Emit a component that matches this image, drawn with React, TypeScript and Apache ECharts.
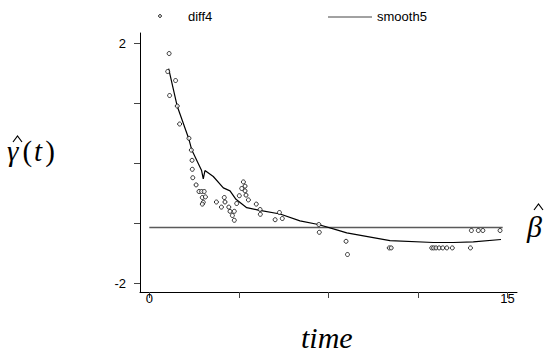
import React, { useEffect, useRef } from "react";
import * as echarts from "echarts";

const diff4X = [0.83, 0.77, 1.1, 0.85, 1.17, 1.27, 1.66, 1.76, 1.79, 1.8, 1.82, 1.96, 2.08, 2.19, 2.3, 2.22, 2.35, 2.26, 2.22, 2.81, 3.02, 3.14, 3.17, 3.33, 3.38, 3.56, 3.48, 3.56, 3.66, 3.77, 3.87, 3.94, 4.01, 4.01, 4.05, 4.15, 4.48, 4.64, 4.65, 5.27, 5.45, 5.57, 7.1, 7.12, 8.24, 8.3, 10.05, 10.13, 11.83, 11.91, 12.01, 12.14, 12.29, 12.46, 12.69, 13.45, 13.49, 13.78, 13.97, 14.69];
const diff4Y = [1.83, 1.53, 1.38, 1.13, 0.955, 0.655, 0.417, 0.22, 0.05, -0.1, -0.24, -0.36, -0.47, -0.47, -0.47, -0.57, -0.56, -0.65, -0.68, -0.645, -0.73, -0.57, -0.645, -0.73, -0.8, -0.8, -0.87, -0.95, -0.67, -0.54, -0.42, -0.31, -0.38, -0.46, -0.53, -0.61, -0.68, -0.77, -0.85, -0.94, -0.82, -0.92, -1.02, -1.15, -1.3, -1.52, -1.41, -1.41, -1.41, -1.41, -1.41, -1.41, -1.41, -1.41, -1.41, -1.41, -1.12, -1.12, -1.12, -1.12];

const smooth5X = [0.81, 1.17, 1.66, 1.78, 2.19, 2.26, 2.33, 2.68, 3.1, 3.38, 3.63, 4.08, 4.57, 5.48, 6.31, 7.08, 7.85, 8.27, 10.08, 11.9, 12.74, 13.57, 14.73];
const smooth5Y = [1.58, 0.95, 0.4, 0.22, -0.12, -0.26, -0.12, -0.22, -0.41, -0.46, -0.6, -0.74, -0.78, -0.845, -0.96, -1.02, -1.11, -1.16, -1.29, -1.32, -1.32, -1.31, -1.27];

const betaX = [0, 14.8];
const betaY = [-1.07, -1.07];

const xTicks = [0, 3.75, 7.5, 11.25, 15];
const xTickLabels = [0, 15];
const yTicks = [-2, -1, 0, 1, 2];
const yTickLabels = [-2, 2];

const SANS = "Liberation Sans";
const SERIF = "Liberation Serif";

export default function App() {
  const ref = useRef<HTMLDivElement>(null);
  useEffect(() => {
    if (!ref.current) return;
    const chart = echarts.init(ref.current, null, { renderer: "svg" });
    const labelFont = { fontFamily: SANS, fontSize: 13, color: "#000" };
    chart.setOption({
      animation: false,
      backgroundColor: "#fff",
      grid: { left: 140, top: 33, width: 377, height: 259 },
      xAxis: {
        type: "value",
        min: -0.39,
        max: 15.4,
        splitLine: { show: false },
        axisLine: { show: true, onZero: false, lineStyle: { color: "#000", width: 1 } },
        axisTick: { show: true, length: 6, customValues: xTicks, lineStyle: { color: "#444" } },
        axisLabel: { ...labelFont, margin: 0, customValues: xTickLabels },
      },
      yAxis: {
        type: "value",
        min: -2.145,
        max: 2.172,
        splitLine: { show: false },
        axisLine: { show: true, onZero: false, lineStyle: { color: "#000", width: 1 } },
        axisTick: { show: true, length: 6, customValues: yTicks, lineStyle: { color: "#444" } },
        axisLabel: { ...labelFont, margin: 14, customValues: yTickLabels },
      },
      series: [
        {
          type: "line",
          data: betaX.map((x, i) => [x, betaY[i]]),
          symbol: "none",
          lineStyle: { color: "#5a5a5a", width: 1.5 },
          silent: true,
          z: 1,
        },
        {
          type: "line",
          name: "smooth5",
          data: smooth5X.map((x, i) => [x, smooth5Y[i]]),
          symbol: "none",
          lineStyle: { color: "#000", width: 1.2 },
          z: 2,
        },
        {
          type: "scatter",
          name: "diff4",
          data: diff4X.map((x, i) => [x, diff4Y[i]]),
          symbol: "circle",
          symbolSize: 4,
          itemStyle: { color: "#fff", borderColor: "#000", borderWidth: 1 },
          z: 3,
        },
      ],
      graphic: [
        { type: "circle", shape: { cx: 160, cy: 16, r: 1.4 }, style: { fill: "#fff", stroke: "#000", lineWidth: 1 } },
        { type: "text", x: 188, y: 16, style: { text: "diff4", fontFamily: SANS, fontSize: 13, fill: "#000", verticalAlign: "middle" } },
        { type: "line", shape: { x1: 328, y1: 17, x2: 372, y2: 17 }, style: { stroke: "#444", lineWidth: 1 } },
        { type: "text", x: 377, y: 16, style: { text: "smooth5", fontFamily: SANS, fontSize: 13, fill: "#000", verticalAlign: "middle" } },
        { type: "text", x: 301, y: 352, style: { text: "time", fontFamily: SERIF, fontStyle: "italic", fontSize: 30, fill: "#000", verticalAlign: "bottom" } },
        {
          type: "text",
          x: 7,
          y: 165,
          style: {
            text: "{g|γ}{p|(}{t|t}{p|)}",
            verticalAlign: "bottom",
            rich: {
              g: { fontFamily: SERIF, fontStyle: "italic", fontSize: 29, fill: "#000", padding: [0, 4, 0, 0] },
              p: { fontFamily: SERIF, fontSize: 29, fill: "#000" },
              t: { fontFamily: SERIF, fontStyle: "italic", fontSize: 29, fill: "#000", padding: [0, 3, 0, 2] },
            },
          },
        },
        { type: "polyline", shape: { points: [[13, 142], [17.5, 136], [22, 142]] }, style: { stroke: "#000", lineWidth: 1.2, fill: "none" } },
        { type: "text", x: 527, y: 241, style: { text: "β", fontFamily: SERIF, fontStyle: "italic", fontSize: 30, fill: "#000", verticalAlign: "bottom" } },
        { type: "polyline", shape: { points: [[534, 210], [538.5, 204], [543, 210]] }, style: { stroke: "#000", lineWidth: 1.2, fill: "none" } },
      ],
    });
    return () => chart.dispose();
  }, []);
  return <div ref={ref} style={{ width: 547, height: 355, position: "absolute", left: 0, top: 0 }} />;
}
